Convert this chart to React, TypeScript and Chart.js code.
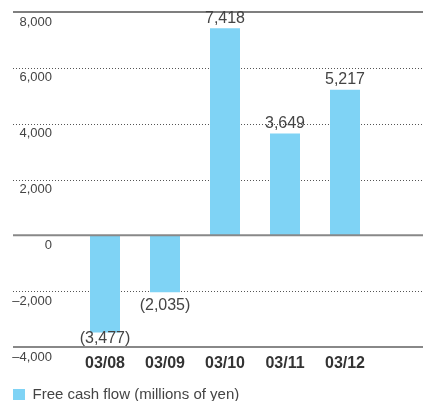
import React, { useEffect, useRef } from "react";
import { Chart, registerables } from "chart.js";

Chart.register(...registerables);

const categories = ["03/08", "03/09", "03/10", "03/11", "03/12"];
const freeCashFlow = [-3477, -2035, 7418, 3649, 5217];
const tickValues = [8000, 6000, 4000, 2000, 0, -2000, -4000];
const solidTicks = [8000, 0, -4000];
const seriesLabel = "Free cash flow (millions of yen)";

const FONT = "'Liberation Sans', Arial, Helvetica, sans-serif";
const BAR_COLOR = "#7fd3f5";

const fmtTick = (v: number) => {
  const s = Math.abs(v).toLocaleString("en-US");
  return v < 0 ? "\u2013" + s : s;
};
const fmtValue = (v: number) => {
  const s = Math.abs(v).toLocaleString("en-US");
  return v < 0 ? "(" + s + ")" : s;
};

const gridPlugin = {
  id: "customGrid",
  beforeDatasetsDraw(chart: any) {
    const { ctx, scales, width } = chart;
    const y = scales.y;
    ctx.save();
    ctx.strokeStyle = "#555";
    ctx.lineWidth = 1;
    ctx.setLineDash([1, 2]);
    tickValues.forEach((v) => {
      if (solidTicks.includes(v)) return;
      const py = Math.round(y.getPixelForValue(v)) + 0.5;
      ctx.beginPath();
      ctx.moveTo(13, py);
      ctx.lineTo(width, py);
      ctx.stroke();
    });
    ctx.restore();
  },
  afterDatasetsDraw(chart: any) {
    const { ctx, scales, width } = chart;
    const y = scales.y;
    ctx.save();
    solidTicks.forEach((v) => {
      const py = y.getPixelForValue(v);
      ctx.strokeStyle = v === 8000 ? "#555" : "#888";
      ctx.lineWidth = v === 8000 ? 1.5 : 2;
      ctx.beginPath();
      ctx.moveTo(13, py);
      ctx.lineTo(width, py);
      ctx.stroke();
    });
    // value labels
    const meta = chart.getDatasetMeta(0);
    const bottom = chart.chartArea.bottom;
    ctx.fillStyle = "#444";
    ctx.font = "16px " + FONT;
    ctx.textAlign = "center";
    ctx.textBaseline = "middle";
    meta.data.forEach((bar: any, i: number) => {
      const v = freeCashFlow[i];
      const ly = v >= 0 ? bar.y - 10 : Math.min(bar.y + 13.5, bottom - 8);
      ctx.fillText(fmtValue(v), bar.x, ly);
    });
    ctx.restore();
  },
};

export default function App() {
  const ref = useRef<HTMLCanvasElement>(null);
  useEffect(() => {
    if (!ref.current) return;
    const chart = new Chart(ref.current, {
      type: "bar",
      data: {
        labels: categories,
        datasets: [
          {
            label: seriesLabel,
            data: freeCashFlow,
            backgroundColor: BAR_COLOR,
            borderWidth: 0,
            barPercentage: 0.5,
            categoryPercentage: 1,
          },
        ],
      },
      options: {
        responsive: false,
        animation: false,
        devicePixelRatio: 1,
        layout: { padding: { left: 3, right: 48, top: 12, bottom: 0 } },
        plugins: {
          tooltip: { enabled: false },
          legend: {
            position: "bottom",
            align: "start",
            labels: {
              boxWidth: 12,
              boxHeight: 11,
              padding: 10,
              color: "#444",
              font: { family: FONT, size: 15 },
            },
          },
        },
        scales: {
          x: {
            grid: { display: false, drawTicks: false },
            border: { display: false },
            ticks: {
              padding: 7,
              color: "#333",
              font: { family: FONT, size: 16, weight: "bold" },
            },
            afterFit(scale: any) {
              scale.height = 30;
            },
          },
          y: {
            min: -4000,
            max: 8000,
            grid: { display: false, drawTicks: false },
            border: { display: false },
            ticks: {
              stepSize: 2000,
              padding: 23,
              labelOffset: 10,
              color: "#444",
              font: { family: FONT, size: 13 },
              callback: (v: any) => fmtTick(Number(v)),
            },
            afterFit(scale: any) {
              scale.width = 72;
              scale.paddingTop = 0;
              scale.paddingBottom = 0;
            },
          },
        },
      },
      plugins: [gridPlugin],
    });
    return () => chart.destroy();
  }, []);
  return (
    <div
      style={{
        position: "fixed",
        left: 0,
        top: 0,
        width: 423,
        height: 401,
        overflow: "hidden",
        background: "#fff",
      }}
    >
      <canvas ref={ref} width={423} height={412} style={{ display: "block" }} />
    </div>
  );
}
